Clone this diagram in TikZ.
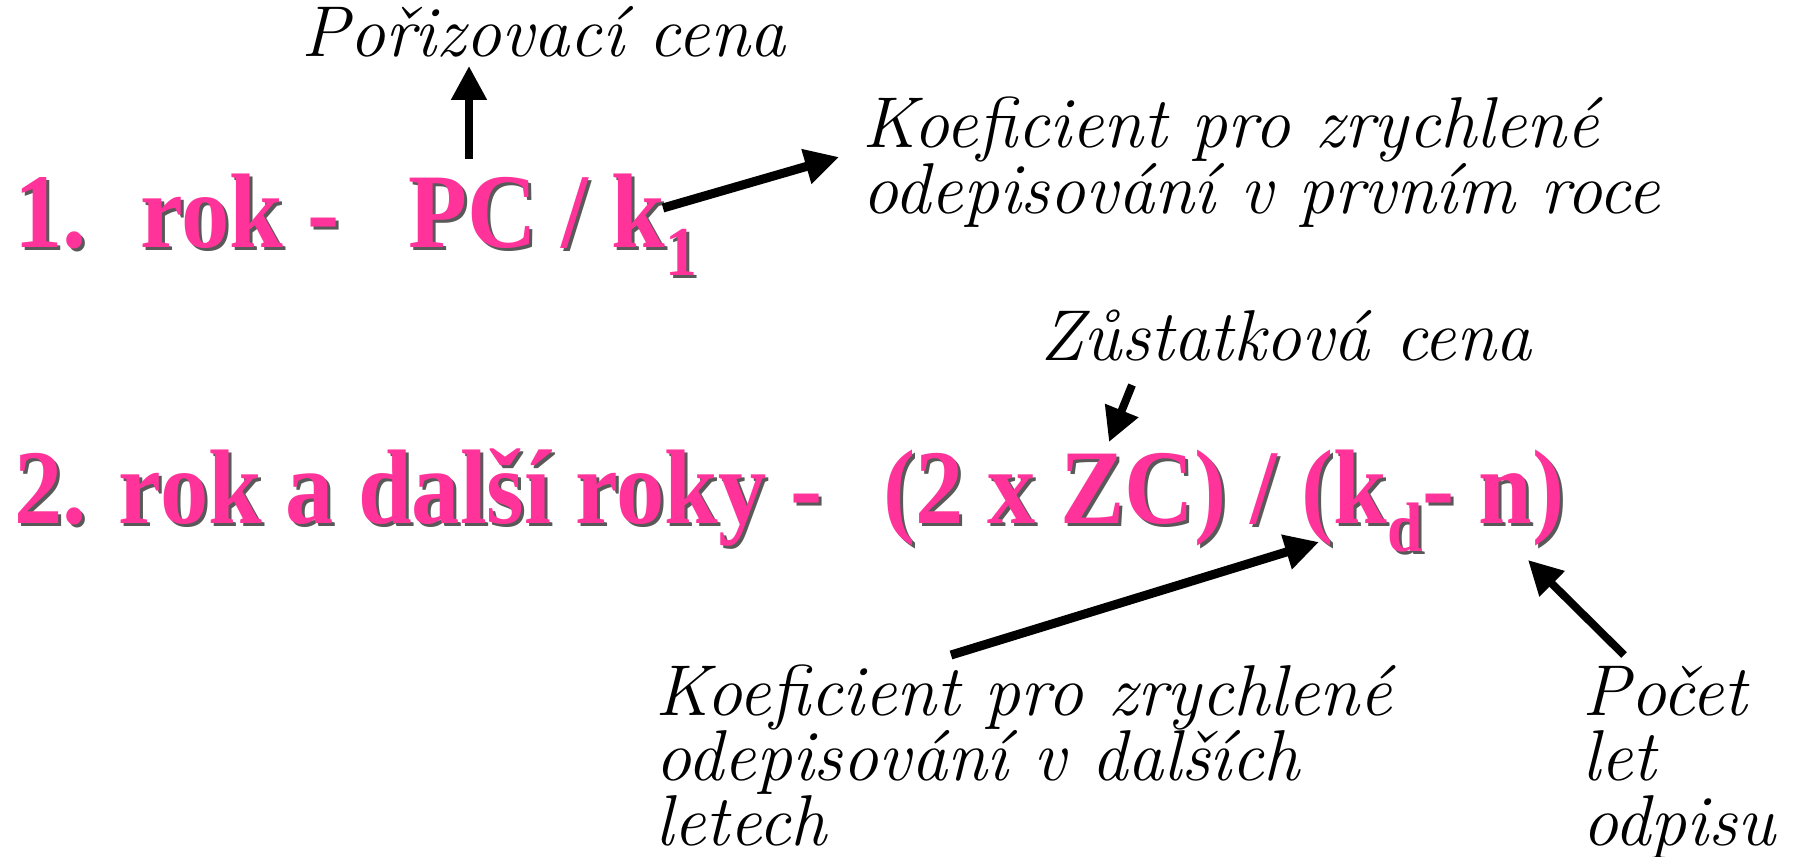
\documentclass[tikz,border=0pt]{standalone}
\usepackage{fontspec}
\usepackage{tikz}
\usetikzlibrary{arrows.meta}
\newfontfamily\pinkfont[FakeStretch=0.91]{Liberation Serif}
\definecolor{odpispink}{RGB}{255,51,153}

% formula text with a drop shadow
\newcommand\pinktext[3]{%
  \node[formula,text=black!65,anchor=base west] at ([shift={(3,-3)}]#2) {#3};
  \node[formula,anchor=base west] (#1) at (#2) {#3};}
\newcommand\sub[1]{\raisebox{-14pt}{\fontsize{35}{35}\selectfont #1}}

\begin{document}
\begin{tikzpicture}[x=0.5pt,y=0.5pt,
    formula/.style={inner sep=0pt,text=odpispink,font=\pinkfont\bfseries\fontsize{53}{53}\selectfont},
    note/.style={inner sep=0pt,align=left,font=\itshape\fontsize{36}{32.5}\selectfont},
    arr/.style={line width=4pt,-{Triangle[length=17pt,width=17pt]}}]

    \useasboundingbox (0,0) rectangle (1802,-856);

    % 1. rok
    \pinktext{one}{14,-247}{1.}
    \pinktext{rok}{140,-247}{rok -}
    \pinktext{pc}{408,-247}{PC / k\sub{1}}

    % 2. rok a další roky
    \pinktext{two}{14,-523}{2. rok a další roky -}
    \pinktext{zc}{883,-523}{(2 x ZC) / (k\sub{d}- n)}

    % popisky (base = posledni radek)
    \node[note,anchor=base west] (porizlbl) at (301,-57) {Pořizovací cena};
    \node[note,anchor=base west] (k1lbl) at (862,-213)
        {Koeficient pro zrychlené\\odepisování v prvním roce};
    \node[note,anchor=base west] (zclbl) at (1040,-360) {Zůstatková cena};
    \node[note,anchor=base west] (kdlbl) at (655,-845)
        {Koeficient pro zrychlené\\odepisování v dalších\\letech};
    \node[note,anchor=base west] (nlbl) at (1582,-845) {Počet\\let\\odpisu};

    % konce šipek
    \coordinate (a1s) at (469,-159);  \coordinate (a1e) at (469,-66);
    \coordinate (a2s) at (663,-208);  \coordinate (a2e) at (839,-157);
    \coordinate (a3s) at (1132,-385); \coordinate (a3e) at (1109,-442);
    \coordinate (a4s) at (951,-655);  \coordinate (a4e) at (1319,-542);
    \coordinate (a5s) at (1624,-655); \coordinate (a5e) at (1528,-560);

    \draw[arr] (a1s) -- (a1e);
    \draw[arr,line width=4.5pt] (a2s) -- (a2e);
    \draw[arr] (a3s) -- (a3e);
    \draw[arr,line width=4.5pt] (a4s) -- (a4e);
    \draw[arr] (a5s) -- (a5e);

\end{tikzpicture}
\end{document}
